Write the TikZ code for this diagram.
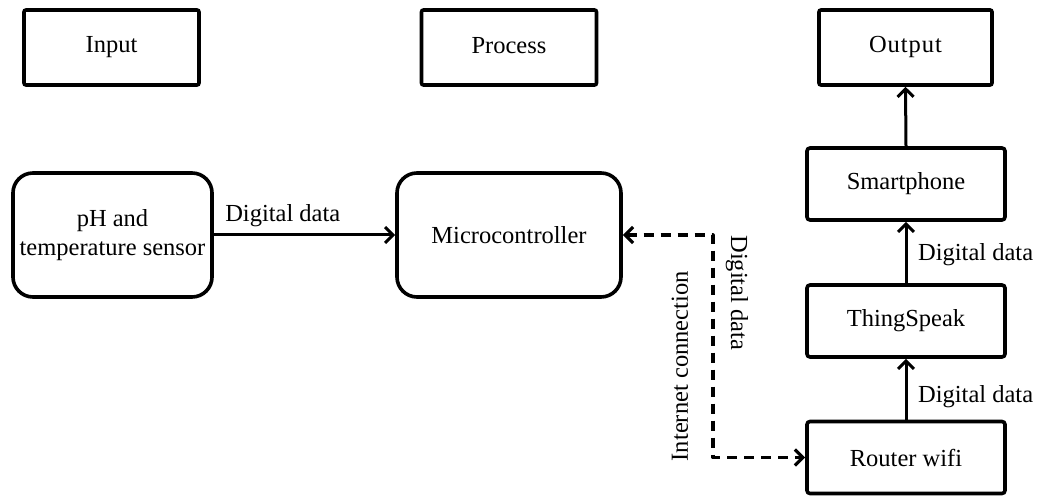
\documentclass[tikz,border=0pt]{standalone}
\usepackage{fontspec}
\setmainfont{Liberation Serif}
\usetikzlibrary{arrows.meta}

\begin{document}
\begin{tikzpicture}[x=0.5pt, y=-0.5pt,
  font=\fontsize{12.25}{14.5}\selectfont,
  >={Straight Barb[length=4pt,width=8pt]},
  stage/.style={draw, line width=1.8pt, rounded corners=1pt, minimum width=87.5pt, minimum height=37.5pt},
  unit/.style={draw, line width=1.8pt, rounded corners=10pt, minimum height=62pt, align=center},
  cloud/.style={draw, line width=1.8pt, rounded corners=1.5pt, minimum width=99pt, minimum height=36pt},
  flow/.style={line width=1.5pt, ->},
  link/.style={line width=1.6pt, <->, dashed, dash pattern=on 5pt off 3.5pt, line join=round}]
\useasboundingbox (0,0) rectangle (1061,496); % page size

% stage headers
\node[stage] (input) at (111.5,47.5) {Input};
\node[stage] (process) at (509,47.5) {\raisebox{2.25pt}{Process}};
\node[stage, minimum width=86.5pt] (output) at (905.5,47.5) {\addfontfeature{LetterSpace=4}Output};

% blocks
\node[unit, minimum width=99.5pt] (sensor) at (112.5,235) {pH and\\temperature sensor};
\node[unit, minimum width=112pt] (mcu) at (509,235) {Microcontroller};
\node[cloud] (phone) at (906,184) {Smartphone};
\node[cloud] (thingspeak) at (906,321) {ThingSpeak};
\node[cloud] (router) at (906,457.5) {Router wifi};

% connections
\draw[flow] (sensor.east) -- node[above, pos=0.38] {Digital data} (mcu.west); % sensor to mcu
\draw[flow] (router.north) -- node[right, pos=0.38, xshift=2pt] {Digital data} (thingspeak.south);
\draw[flow] (thingspeak.north) -- node[right, pos=0.46, xshift=2pt] {Digital data} (phone.south);
\draw[flow] (phone.north) -- (output.south);

\coordinate (bendA) at (713,235);
\coordinate (bendB) at (713,457.5);
\draw[link] (mcu.east) -- (bendA)
  -- node[pos=0.26, xshift=12pt, rotate=-90] {Digital data}
     node[pos=0.59, xshift=-16.5pt, rotate=90] {Internet connection} (bendB)
  -- (router.west); % wifi link
\end{tikzpicture}
\end{document}
